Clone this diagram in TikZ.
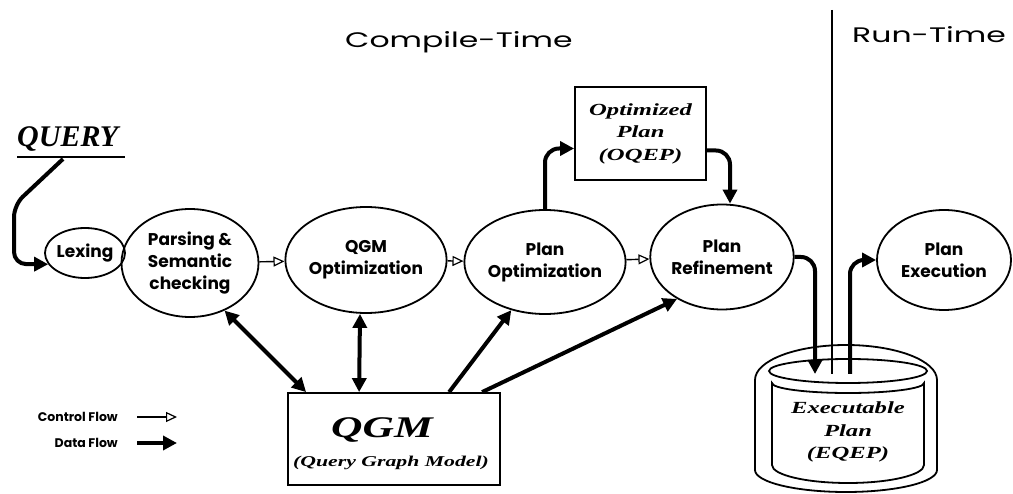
\documentclass[tikz,border=0pt]{standalone}
\usepackage{fontspec}
\usetikzlibrary{arrows.meta,shapes.geometric,calc}
\newfontfamily\labfont{Poppins}
\newfontfamily\ttlfont{Poppins}[FakeStretch=1.5]
\newfontfamily\scrfont{Liberation Serif}[FakeStretch=1.45]
\newfontfamily\qfont{Liberation Serif}
\begin{document}
\begin{tikzpicture}[x=1pt,y=-1pt,
  proc/.style={ellipse,draw,line width=1.8pt,inner sep=0pt,align=center,
    font=\labfont\bfseries\fontsize{17}{22}\selectfont},
  box/.style={rectangle,draw,line width=1.8pt,inner sep=0pt,align=center},
  ctrl/.style={line width=1.4pt,-{Triangle[open,length=11pt,width=10pt,line width=1.2pt]}},
  data/.style={line width=4pt,-{Triangle[length=14pt,width=14pt]}},
  datab/.style={line width=4pt,{Triangle[length=14pt,width=14pt]}-{Triangle[length=14pt,width=14pt]}},
  scr/.style={font=\scrfont\bfseries\itshape\fontsize{17}{22.5}\selectfont},
  ttl/.style={font=\ttlfont\fontsize{21}{21}\selectfont,inner sep=0pt},
  leg/.style={font=\labfont\bfseries\fontsize{12.5}{12}\selectfont,inner sep=0pt},
  wall/.style={line width=1.8pt},
]
\useasboundingbox (0,0) rectangle (1013,494);

% titles and separator
\node[ttl,anchor=base west] (ct) at (345,48) {Compile-Time};
\node[ttl,anchor=base west] (rt) at (852,43) {Run-Time};
\coordinate (vtop) at (832,10);
\coordinate (vbot) at (832,374);
\draw[line width=1.3pt] (vtop) -- (vbot);

% process ellipses
\node[proc,minimum width=74pt,minimum height=50pt] (lex) at (85,253) {Lexing};
\node[proc,minimum width=137pt,minimum height=108pt] (parse) at (190,263) {Parsing \&\\Semantic\\checking};
\node[proc,minimum width=142pt,minimum height=106pt] (qgmopt) at (366,260) {QGM\\Optimization};
\node[proc,minimum width=136pt,minimum height=104pt] (planopt) at (545,262) {Plan\\Optimization};
\node[proc,minimum width=141pt,minimum height=105pt] (refine) at (722,257) {Plan\\Refinement};
\node[proc,minimum width=134pt,minimum height=100pt] (exec) at (944,260) {Plan\\Execution};

% boxes
\node[box,minimum width=131pt,minimum height=93pt,scr] (opt) at (640.5,133.5) {Optimized\\Plan\\(OQEP)};
\node[box,minimum width=212pt,minimum height=92pt] (qgm) at (394,439) {};
\node[font=\scrfont\bfseries\itshape\fontsize{30}{30}\selectfont,inner sep=0pt] (qgmt) at (382,430) {QGM};
\node[font=\scrfont\bfseries\itshape\fontsize{15}{15}\selectfont,inner sep=0pt] (qgmsub) at (391,463) {(Query Graph Model)};

% query
\node[font=\qfont\bfseries\itshape\fontsize{30}{30}\selectfont,inner sep=0pt,anchor=base west] (query) at (17,147) {QUERY};
\draw[line width=1.5pt] ($(query.base west)+(0,10)$) -- ($(query.base east)+(6,10)$);
\coordinate (qstart) at (63,159);
\draw[data,rounded corners=12pt] (qstart) -- (14,205) -- (14,264) -- (lex.-163);

% cylinder
\draw[wall] (755,380) arc[start angle=180,end angle=360,x radius=91,y radius=35]
  -- (937,470) arc[start angle=0,end angle=180,x radius=91,y radius=22] -- cycle;
\draw[wall] (848,371) ellipse[x radius=79,y radius=12];
\draw[wall] (772,383) arc[start angle=180,end angle=0,x radius=76,y radius=10]
  -- (924,465) arc[start angle=0,end angle=180,x radius=76,y radius=18] -- cycle;
\node[scr,align=center,inner sep=0pt] (cyl) at (848,432) {Executable\\Plan\\(EQEP)};
\coordinate (cin) at (815,374);
\coordinate (cout) at (850,374);

% control flow
\draw[ctrl] (parse) -- (qgmopt);
\draw[ctrl] (qgmopt) -- (planopt);
\draw[ctrl] (planopt) -- (refine);

% data flow
\draw[datab] (parse.-54) -- ($(qgm.north west)+(19,0)$);
\draw[datab] ($(qgmopt.south)+(-6,0)$) -- ($(qgm.north west)+(72,0)$);
\draw[data] ($(qgm.north west)+(162,0)$) -- (planopt.-125);
\draw[data] ($(qgm.north west)+(195,0)$) -- (refine.-137);
\draw[data,rounded corners=14pt] (planopt.north) |- ($(opt.west)+(0,15)$);
\draw[data,rounded corners=14pt] ($(opt.east)+(0,17)$) -| ($(refine.north)+(8,0)$);
\draw[data,rounded corners=14pt] (refine.east) -| (cin);
\draw[data,rounded corners=14pt] (cout) |- (exec.west);

% legend
\node[leg,anchor=east] (lc) at (118,417) {Control Flow};
\node[leg,anchor=east] (ld) at (118,443) {Data Flow};
\draw[ctrl] ($(lc.east)+(19,0)$) -- ++(40,0);
\draw[data] ($(ld.east)+(19,0)$) -- ++(40,0);
\end{tikzpicture}
\end{document}
